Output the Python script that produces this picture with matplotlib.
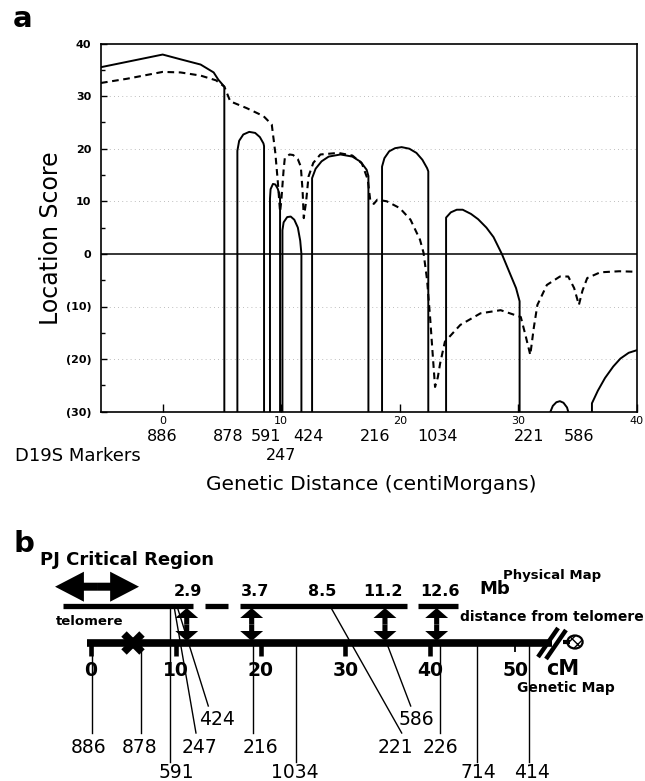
import matplotlib
matplotlib.use('Agg')
import matplotlib.pyplot as plt
import matplotlib.patches as mpatches
import matplotlib.transforms as mtrans

# ---------------- panel a : location scores vs genetic distance (cM) ----------------
solid1_x = [-5.2, 0.0, 1.5, 3.2, 4.3, 4.7, 5.2, 5.2]
solid1_y = [35.5, 37.9, 37.0, 36.0, 34.5, 33.1, 31.8, -30]

arch1_x = [6.3, 6.3, 6.45, 6.8, 7.3, 7.8, 8.2, 8.5, 8.55, 8.55]
arch1_y = [-30, 19.6, 21.5, 22.7, 23.2, 23.0, 22.2, 21.0, 20.5, -30]

arch2_x = [9.05, 9.05, 9.1, 9.3, 9.5, 9.7, 9.85, 9.9, 9.9]
arch2_y = [-30, 10.5, 12.3, 13.3, 13.2, 12.4, 11.3, 10.5, -30]

arch3_x = [10.1, 10.1, 10.2, 10.5, 10.8, 11.1, 11.4, 11.6, 11.7, 11.7]
arch3_y = [-30, 4.5, 6.0, 7.0, 7.1, 6.5, 5.0, 2.5, 0.0, -30]

arch4_x = [12.6, 12.6, 12.9, 13.4, 14.0, 15.0, 16.0, 16.7, 17.2, 17.35, 17.35]
arch4_y = [-30, 14.4, 16.2, 17.6, 18.5, 18.9, 18.5, 17.5, 16.0, 14.8, -30]

arch5_x = [18.5, 18.5, 18.7, 19.1, 19.6, 20.15, 20.8, 21.4, 21.9, 22.3, 22.4, 22.4]
arch5_y = [-30, 16.6, 18.2, 19.5, 20.1, 20.3, 20.0, 19.2, 17.9, 16.3, 15.7, -30]

arch6_x = [23.9, 23.9, 24.3, 24.8, 25.3, 26.0, 26.6, 27.3, 27.9, 28.6, 29.3, 29.8, 30.1, 30.1]
arch6_y = [-30, 6.9, 7.9, 8.4, 8.4, 7.6, 6.6, 5.0, 3.2, 0.0, -3.8, -6.5, -9.0, -30]

bump_x = [32.7, 32.9, 33.2, 33.5, 33.8, 34.1, 34.2]
bump_y = [-30, -28.9, -28.2, -28.0, -28.3, -29.2, -30]

tail_x = [36.2, 36.2, 36.7, 37.3, 38.0, 38.6, 39.3, 40.0]
tail_y = [-30, -28.4, -26.0, -23.6, -21.4, -19.9, -18.8, -18.3]

dash_x = [-5.2, -3.0, 0.0, 1.5, 3.2, 4.5, 5.2, 5.7, 7.1, 8.5, 9.2, 9.4, 9.5, 9.7, 9.9,
          10.0, 10.2, 10.3, 10.7, 11.0, 11.4, 11.65, 11.8, 11.9, 12.1, 12.3, 12.7, 13.3,
          14.8, 16.0, 16.8, 17.3, 17.5, 17.8, 18.1, 18.9, 20.0, 20.9, 21.7, 22.0, 22.3,
          22.55, 22.8, 22.97, 23.2, 23.4, 23.8, 25.1, 26.8, 28.5, 30.2, 30.6, 31.0, 31.3,
          31.6, 32.4, 33.5, 34.2, 34.7, 35.1, 35.4, 35.8, 36.9, 38.5, 40.0]
dash_y = [32.5, 33.3, 34.6, 34.5, 33.9, 33.0, 31.8, 29.0, 27.7, 26.2, 24.6, 21.0, 19.2, 14.0, 8.0,
          10.0, 16.0, 18.2, 18.9, 18.8, 18.0, 16.6, 12.0, 6.8, 10.0, 14.7, 17.3, 18.9,
          19.2, 18.7, 17.2, 14.1, 10.3, 9.5, 10.3, 10.0, 8.7, 6.5, 2.7, 0.2, -5.0,
          -12.0, -20.0, -25.3, -23.5, -20.8, -16.7, -13.5, -11.3, -10.7, -12.0, -15.5, -19.2, -14.0,
          -9.7, -5.9, -4.3, -4.3, -6.5, -9.7, -7.0, -4.6, -3.5, -3.3, -3.4]

a_markers = ['886', '878', '591', '247', '424', '216', '1034', '221', '586']
a_marker_cm = [0.0, 5.5, 8.7, 10.0, 12.3, 17.9, 23.2, 30.9, 35.1]
a_marker_row = [0, 0, 0, 1, 0, 0, 0, 0, 0]

y_ticks = [40, 30, 20, 10, 0, -10, -20, -30]
y_ticklabels = ['40', '30', '20', '10', '0', '(10)', '(20)', '(30)']
x_ticks = [0, 10, 20, 30, 40]

# ---------------- panel b : physical / genetic map ----------------
phys_seg_start = [-3.26, 13.46, 17.59, 38.55]
phys_seg_end = [12.05, 16.17, 37.22, 43.26]
phys_labels = ['2.9', '3.7', '8.5', '11.2', '12.6']
phys_label_cm = [11.46, 19.35, 27.24, 34.43, 41.14]
phys_arrow_cm = [11.31, 18.96, 34.66, 40.75]

gen_ticks = [0, 10, 20, 30, 40, 50]

b_markers = ['886', '878', '591', '247', '424', '216', '1034', '221', '586', '226', '714', '414']
b_top_cm = [0.1, 5.89, 9.34, 9.81, 10.16, 19.08, 24.18, 28.19, 34.86, 41.14, 45.54, 51.66]
b_bot_cm = [0.1, 5.89, 9.34, 12.4, 13.85, 19.08, 24.18, 36.63, 37.69, 41.14, 45.54, 51.66]
b_from_phys = [False, False, True, True, True, False, False, True, False, False, False, False]
b_row = [1, 1, 2, 1, 0, 1, 2, 1, 0, 1, 2, 2]
b_label_cm = [-0.28, 5.81, 10.05, 12.87, 14.84, 19.94, 24.06, 35.84, 38.4, 41.14, 45.65, 51.94]
cross_cm = 5.02

W, H = 645, 781
fig = plt.figure(figsize=(6.45, 7.81), dpi=100)

# ---------- panel a ----------
ax = fig.add_axes([101 / W, 1 - 411.7 / H, 536 / W, 368.2 / H])
ax.set_xlim(-5.2, 40)
ax.set_ylim(-30, 40)
for yy in [30, 20, 10, -10, -20]:
    ax.axhline(yy, color='#a8a8a8', lw=0.6, ls=(0, (1, 4)), zorder=0)
ax.axhline(0, color='k', lw=1.1)

for xs, ys in [(solid1_x, solid1_y), (arch1_x, arch1_y), (arch2_x, arch2_y),
               (arch3_x, arch3_y), (arch4_x, arch4_y), (arch5_x, arch5_y),
               (arch6_x, arch6_y), (bump_x, bump_y), (tail_x, tail_y)]:
    ax.plot(xs, ys, color='k', lw=1.4, solid_joinstyle='round')
ax.plot(dash_x, dash_y, color='k', lw=1.5, ls=(0, (3.2, 2.2)))

for sp in ax.spines.values():
    sp.set_linewidth(1.2)
ax.set_yticks(y_ticks)
ax.set_yticklabels(y_ticklabels, fontsize=8, fontweight='bold')
ax.set_yticks([35, 25, 15, 5, -5, -15, -25], minor=True)
ax.set_xticks(x_ticks)
ax.set_xticklabels([str(t) for t in x_ticks], fontsize=8)
ax.tick_params(axis='y', direction='in', length=4, width=1, pad=7)
ax.tick_params(axis='y', which='minor', direction='in', length=3, width=1)
ax.tick_params(axis='x', direction='in', length=6, width=1, pad=3, top=False)

row_base = [441, 460]
mark_tr = mtrans.blended_transform_factory(ax.transData, fig.transFigure)
for name, cm, row in zip(a_markers, a_marker_cm, a_marker_row):
    ax.text(cm, 1 - row_base[row] / H, name, fontsize=11.5, ha='center', va='baseline',
            transform=mark_tr)

fig.text(15 / W, 1 - 461 / H, 'D19S Markers', fontsize=13, ha='left', va='baseline')
fig.text(371 / W, 1 - 490 / H, 'Genetic Distance (centiMorgans)', fontsize=14.5,
         ha='center', va='baseline')
fig.text(51 / W, 1 - 238 / H, 'Location Score', fontsize=17, rotation=90,
         ha='center', va='center')
fig.text(13 / W, 1 - 27 / H, 'a', fontsize=21, fontweight='bold', ha='left', va='baseline')
fig.text(13 / W, 1 - 552 / H, 'b', fontsize=21, fontweight='bold', ha='left', va='baseline')

# ---------- panel b (x in cM, y in pixel rows) ----------
bx = fig.add_axes([0, 0, 1, 261 / H])
bx.set_xlim(-90.7 / 8.49, (645 - 90.7) / 8.49)
bx.set_ylim(781, 520)
bx.axis('off')

y_phys, y_gen = 606, 643

# PJ critical region double arrow
pj_l, pj_r = -4.2, 5.69
pj_c = (pj_l + pj_r) / 2
for end in (pj_l, pj_r):
    bx.add_patch(mpatches.FancyArrow(pj_c, 586.7, end - pj_c, 0, width=8, head_width=30,
                                     head_length=3.4, length_includes_head=True,
                                     color='k', lw=0))
bx.text(-5.97, 565, 'PJ Critical Region', fontsize=13, fontweight='bold', ha='left',
        va='baseline')
bx.text(-0.08, 625, 'telomere', fontsize=9.5, fontweight='bold', ha='center', va='baseline')

# physical map
for x0, x1 in zip(phys_seg_start, phys_seg_end):
    bx.plot([x0, x1], [y_phys, y_phys], color='k', lw=3.8, solid_capstyle='butt')
for lab, cm in zip(phys_labels, phys_label_cm):
    bx.text(cm, 596, lab, fontsize=11.5, fontweight='bold', ha='center', va='baseline')
bx.text(47.62, 594, 'Mb', fontsize=13, fontweight='bold', ha='center', va='baseline')
bx.text(54.33, 579, 'Physical Map', fontsize=9.5, fontweight='bold', ha='center',
        va='baseline')
bx.text(43.5, 621, 'distance from telomere', fontsize=10, fontweight='bold', ha='left',
        va='baseline')

# vertical double arrows between maps
yc = (y_phys + y_gen) / 2
for cm in phys_arrow_cm:
    for end in (y_phys + 2, y_gen - 2):
        bx.add_patch(mpatches.FancyArrow(cm, yc, 0, end - yc, width=0.6, head_width=2.7,
                                         head_length=10, length_includes_head=True,
                                         color='k', lw=0))

# genetic map
bx.plot([-0.47, 54.3], [y_gen, y_gen], color='k', lw=5.5, solid_capstyle='butt')
bx.plot([55.6, 56.4], [y_gen - 1, y_gen - 1], color='k', lw=3, solid_capstyle='butt')
for t in gen_ticks:
    if t < 50:
        bx.plot([t, t], [y_gen, y_gen + 13], color='k', lw=3.3, solid_capstyle='butt')
    else:
        bx.plot([t, t], [y_gen, y_gen + 9], color='k', lw=1.3, solid_capstyle='butt')
    bx.text(t, 676, str(t), fontsize=13.5, fontweight='bold', ha='center', va='baseline')
bx.plot([cross_cm], [y_gen], marker='x', ms=13, mew=5.5, color='k')
bx.plot([52.69, 55.05], [657, 628], color='k', lw=3.2, solid_capstyle='butt')
bx.plot([53.63, 55.98], [659, 630], color='k', lw=3.2, solid_capstyle='butt')
bx.add_patch(mpatches.Ellipse((57.04, 642), 1.8, 13, facecolor='white', edgecolor='k',
                              lw=1.6, hatch='xxx'))
bx.text(55.6, 675, 'cM', fontsize=15, fontweight='bold', ha='center', va='baseline')
bx.text(55.98, 691.7, 'Genetic Map', fontsize=10, fontweight='bold', ha='center',
        va='baseline')

# marker lines and labels
row_line_end = [706, 733, 762]
row_label_base = [725, 753, 778]
for name, top, bot, fp, row, lx in zip(b_markers, b_top_cm, b_bot_cm, b_from_phys,
                                       b_row, b_label_cm):
    y0 = y_phys if fp else y_gen
    bx.plot([top, bot], [y0, row_line_end[row]], color='k', lw=1.0)
    bx.text(lx, row_label_base[row], name, fontsize=13.5, ha='center', va='baseline')

fig.savefig('out.png', dpi=100)
